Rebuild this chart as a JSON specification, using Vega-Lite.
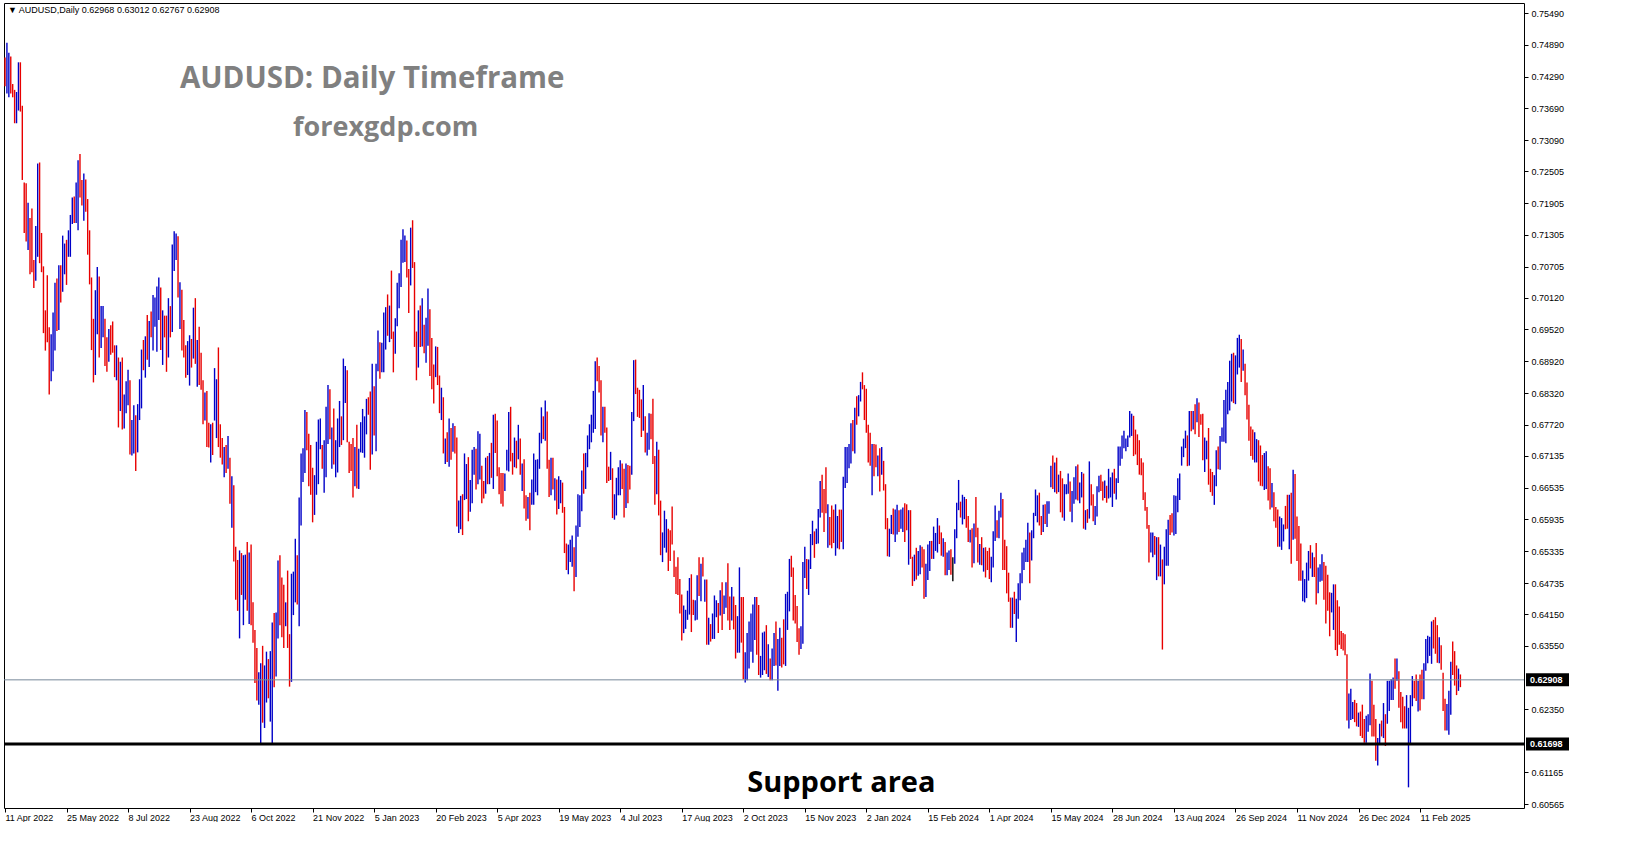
{
"$schema": "https://vega.github.io/schema/vega-lite/v6.json",
"width": 1520,
"height": 805,
"padding": {"left": 2, "top": 3, "right": 0, "bottom": 0},
"autosize": {"type": "pad"},
"background": "#ffffff",
"config": {"view": {"stroke": "#000000", "strokeWidth": 1, "fill": "#ffffff"}, "font": "Liberation Sans", "axis": {"labelOverlap": false, "labelFlush": false}},
"layer": [
{
"data": {"format": {"type": "csv", "parse": {"h": "number", "l": "number"}}, "values": "d,h,l,c\n2022-04-11,0.7465,0.7411,d\n2022-04-12,0.7493,0.7397,u\n2022-04-13,0.7474,0.7390,u\n2022-04-14,0.7467,0.7397,d\n2022-04-15,0.7415,0.7390,d\n2022-04-18,0.7404,0.7341,d\n2022-04-19,0.7400,0.7341,u\n2022-04-20,0.7456,0.7365,u\n2022-04-21,0.7456,0.7363,d\n2022-04-22,0.7374,0.7234,d\n2022-04-25,0.7229,0.7134,d\n2022-04-26,0.7228,0.7118,d\n2022-04-27,0.7191,0.7102,u\n2022-04-28,0.7162,0.7056,d\n2022-04-29,0.7180,0.7060,d\n2022-05-02,0.7083,0.7030,d\n2022-05-03,0.7147,0.7044,u\n2022-05-04,0.7265,0.7089,u\n2022-05-05,0.7267,0.7077,d\n2022-05-06,0.7134,0.7060,d\n2022-05-09,0.7071,0.6945,d\n2022-05-10,0.6988,0.6912,d\n2022-05-11,0.7054,0.6928,d\n2022-05-12,0.6956,0.6829,d\n2022-05-13,0.6943,0.6854,u\n2022-05-16,0.6984,0.6873,u\n2022-05-17,0.7040,0.6912,u\n2022-05-18,0.7048,0.6949,d\n2022-05-19,0.7073,0.6951,u\n2022-05-20,0.7073,0.7003,d\n2022-05-23,0.7129,0.7023,u\n2022-05-24,0.7114,0.7056,u\n2022-05-25,0.7121,0.7036,d\n2022-05-26,0.7139,0.7089,u\n2022-05-27,0.7168,0.7089,u\n2022-05-30,0.7201,0.7151,u\n2022-05-31,0.7203,0.7153,d\n2022-06-01,0.7229,0.7153,u\n2022-06-02,0.7271,0.7139,u\n2022-06-03,0.7283,0.7201,d\n2022-06-06,0.7234,0.7186,d\n2022-06-07,0.7246,0.7157,u\n2022-06-08,0.7235,0.7174,d\n2022-06-09,0.7198,0.7093,d\n2022-06-10,0.7139,0.7037,d\n2022-06-13,0.7050,0.6913,d\n2022-06-14,0.6972,0.6852,d\n2022-06-15,0.7026,0.6866,u\n2022-06-16,0.7070,0.6943,u\n2022-06-17,0.7052,0.6899,d\n2022-06-20,0.6996,0.6917,u\n2022-06-21,0.6996,0.6937,u\n2022-06-22,0.6972,0.6883,d\n2022-06-23,0.6937,0.6872,d\n2022-06-24,0.6953,0.6891,u\n2022-06-27,0.6960,0.6904,d\n2022-06-28,0.6967,0.6908,d\n2022-06-29,0.6922,0.6862,d\n2022-06-30,0.6922,0.6856,u\n2022-07-01,0.6899,0.6767,d\n2022-07-04,0.6891,0.6798,u\n2022-07-05,0.6899,0.6763,d\n2022-07-06,0.6829,0.6765,u\n2022-07-07,0.6854,0.6794,u\n2022-07-08,0.6876,0.6809,u\n2022-07-11,0.6856,0.6716,d\n2022-07-12,0.6781,0.6714,u\n2022-07-13,0.6809,0.6718,u\n2022-07-14,0.6790,0.6685,d\n2022-07-15,0.6811,0.6720,u\n2022-07-18,0.6858,0.6781,u\n2022-07-19,0.6914,0.6803,u\n2022-07-20,0.6932,0.6875,d\n2022-07-21,0.6939,0.6861,u\n2022-07-22,0.6979,0.6895,d\n2022-07-25,0.6968,0.6881,u\n2022-07-26,0.6986,0.6937,d\n2022-07-27,0.7017,0.6912,u\n2022-07-28,0.7012,0.6957,u\n2022-07-29,0.7033,0.6910,u\n2022-08-01,0.7050,0.6970,u\n2022-08-02,0.7031,0.6913,d\n2022-08-03,0.6988,0.6885,u\n2022-08-04,0.6978,0.6937,d\n2022-08-05,0.6978,0.6872,d\n2022-08-08,0.7011,0.6899,u\n2022-08-09,0.6996,0.6937,d\n2022-08-10,0.7112,0.6947,u\n2022-08-11,0.7137,0.7062,u\n2022-08-12,0.7133,0.7083,u\n2022-08-15,0.7128,0.7012,d\n2022-08-16,0.7041,0.6953,u\n2022-08-17,0.7027,0.6912,d\n2022-08-18,0.6970,0.6899,d\n2022-08-19,0.6922,0.6861,d\n2022-08-22,0.6930,0.6866,u\n2022-08-23,0.6941,0.6846,u\n2022-08-24,0.6934,0.6880,d\n2022-08-25,0.6993,0.6897,u\n2022-08-26,0.7011,0.6887,d\n2022-08-29,0.6932,0.6844,u\n2022-08-30,0.6957,0.6847,d\n2022-08-31,0.6908,0.6838,d\n2022-09-01,0.6856,0.6773,d\n2022-09-02,0.6833,0.6780,u\n2022-09-05,0.6836,0.6730,d\n2022-09-06,0.6776,0.6729,d\n2022-09-07,0.6773,0.6701,u\n2022-09-08,0.6776,0.6715,d\n2022-09-09,0.6879,0.6780,u\n2022-09-12,0.6858,0.6747,u\n2022-09-13,0.6918,0.6730,d\n2022-09-14,0.6773,0.6710,d\n2022-09-15,0.6747,0.6697,d\n2022-09-16,0.6730,0.6673,u\n2022-09-19,0.6734,0.6681,d\n2022-09-20,0.6751,0.6689,u\n2022-09-21,0.6710,0.6623,d\n2022-09-22,0.6675,0.6578,u\n2022-09-23,0.6658,0.6514,d\n2022-09-26,0.6542,0.6442,d\n2022-09-27,0.6517,0.6421,d\n2022-09-28,0.6535,0.6369,u\n2022-09-29,0.6530,0.6451,d\n2022-09-30,0.6526,0.6394,u\n2022-10-03,0.6527,0.6442,u\n2022-10-04,0.6551,0.6421,d\n2022-10-05,0.6531,0.6396,u\n2022-10-06,0.6546,0.6394,d\n2022-10-07,0.6437,0.6361,d\n2022-10-10,0.6385,0.6285,d\n2022-10-11,0.6351,0.6252,d\n2022-10-12,0.6305,0.6244,u\n2022-10-13,0.6322,0.6170,u\n2022-10-14,0.6355,0.6210,d\n2022-10-17,0.6318,0.6200,u\n2022-10-18,0.6344,0.6248,u\n2022-10-19,0.6330,0.6256,d\n2022-10-20,0.6345,0.6212,u\n2022-10-21,0.6399,0.6170,u\n2022-10-24,0.6417,0.6277,d\n2022-10-25,0.6418,0.6297,u\n2022-10-26,0.6516,0.6369,u\n2022-10-27,0.6526,0.6394,d\n2022-10-28,0.6484,0.6371,d\n2022-10-31,0.6470,0.6351,d\n2022-11-01,0.6437,0.6392,u\n2022-11-02,0.6497,0.6351,d\n2022-11-03,0.6377,0.6278,d\n2022-11-04,0.6491,0.6287,u\n2022-11-07,0.6495,0.6413,u\n2022-11-08,0.6557,0.6437,u\n2022-11-09,0.6526,0.6433,d\n2022-11-10,0.6635,0.6392,u\n2022-11-11,0.6718,0.6582,u\n2022-11-14,0.6728,0.6664,u\n2022-11-15,0.6800,0.6681,u\n2022-11-16,0.6796,0.6724,d\n2022-11-17,0.6755,0.6656,d\n2022-11-18,0.6734,0.6640,d\n2022-11-21,0.6691,0.6588,d\n2022-11-22,0.6677,0.6602,u\n2022-11-23,0.6740,0.6640,u\n2022-11-24,0.6782,0.6660,u\n2022-11-25,0.6784,0.6726,u\n2022-11-28,0.6734,0.6689,d\n2022-11-29,0.6743,0.6644,u\n2022-11-30,0.6806,0.6673,u\n2022-12-01,0.6847,0.6736,u\n2022-12-02,0.6839,0.6745,d\n2022-12-05,0.6767,0.6689,u\n2022-12-06,0.6803,0.6697,d\n2022-12-07,0.6743,0.6673,u\n2022-12-08,0.6784,0.6682,u\n2022-12-09,0.6817,0.6730,u\n2022-12-12,0.6788,0.6734,d\n2022-12-13,0.6897,0.6743,u\n2022-12-14,0.6883,0.6813,u\n2022-12-15,0.6875,0.6739,d\n2022-12-16,0.6740,0.6681,d\n2022-12-19,0.6736,0.6685,d\n2022-12-20,0.6747,0.6635,d\n2022-12-21,0.6730,0.6656,u\n2022-12-22,0.6772,0.6652,d\n2022-12-23,0.6727,0.6651,u\n2022-12-27,0.6777,0.6720,u\n2022-12-28,0.6802,0.6719,u\n2022-12-29,0.6788,0.6710,u\n2022-12-30,0.6821,0.6754,u\n2023-01-02,0.6824,0.6791,d\n2023-01-03,0.6835,0.6687,d\n2023-01-04,0.6887,0.6716,u\n2023-01-05,0.6845,0.6752,d\n2023-01-06,0.6887,0.6722,u\n2023-01-09,0.6950,0.6873,u\n2023-01-10,0.6928,0.6859,d\n2023-01-11,0.6927,0.6871,u\n2023-01-12,0.6984,0.6871,u\n2023-01-13,0.6994,0.6914,u\n2023-01-16,0.7018,0.6940,d\n2023-01-17,0.6997,0.6928,u\n2023-01-18,0.7063,0.6934,d\n2023-01-19,0.6948,0.6871,d\n2023-01-20,0.6973,0.6906,u\n2023-01-23,0.7040,0.6958,u\n2023-01-24,0.7058,0.6992,u\n2023-01-25,0.7121,0.7032,u\n2023-01-26,0.7141,0.7078,u\n2023-01-27,0.7129,0.7079,u\n2023-01-30,0.7120,0.7050,d\n2023-01-31,0.7066,0.6983,d\n2023-02-01,0.7144,0.7035,u\n2023-02-02,0.7158,0.7068,d\n2023-02-03,0.7079,0.6919,d\n2023-02-06,0.6948,0.6856,d\n2023-02-07,0.6988,0.6880,u\n2023-02-08,0.6997,0.6919,d\n2023-02-09,0.7011,0.6920,u\n2023-02-10,0.6961,0.6907,d\n2023-02-13,0.6974,0.6889,u\n2023-02-14,0.7029,0.6921,u\n2023-02-15,0.6990,0.6864,d\n2023-02-16,0.6936,0.6839,d\n2023-02-17,0.6886,0.6812,d\n2023-02-20,0.6920,0.6862,u\n2023-02-21,0.6919,0.6847,d\n2023-02-22,0.6865,0.6794,d\n2023-02-23,0.6842,0.6781,u\n2023-02-24,0.6824,0.6718,d\n2023-02-27,0.6746,0.6698,u\n2023-02-28,0.6758,0.6702,d\n2023-03-01,0.6784,0.6693,u\n2023-03-02,0.6766,0.6706,d\n2023-03-03,0.6775,0.6721,u\n2023-03-06,0.6770,0.6718,d\n2023-03-07,0.6748,0.6580,d\n2023-03-08,0.6629,0.6568,u\n2023-03-09,0.6638,0.6575,u\n2023-03-10,0.6641,0.6564,d\n2023-03-13,0.6718,0.6630,u\n2023-03-14,0.6698,0.6632,u\n2023-03-15,0.6711,0.6590,d\n2023-03-16,0.6668,0.6608,u\n2023-03-17,0.6725,0.6624,u\n2023-03-20,0.6730,0.6678,u\n2023-03-21,0.6727,0.6650,d\n2023-03-22,0.6760,0.6660,u\n2023-03-23,0.6755,0.6669,u\n2023-03-24,0.6695,0.6624,d\n2023-03-27,0.6666,0.6633,d\n2023-03-28,0.6710,0.6642,u\n2023-03-29,0.6713,0.6660,d\n2023-03-30,0.6719,0.6660,u\n2023-03-31,0.6738,0.6672,d\n2023-04-03,0.6791,0.6651,u\n2023-04-04,0.6793,0.6719,d\n2023-04-05,0.6780,0.6675,d\n2023-04-06,0.6692,0.6641,d\n2023-04-07,0.6681,0.6623,d\n2023-04-10,0.6681,0.6618,d\n2023-04-11,0.6680,0.6647,u\n2023-04-12,0.6725,0.6686,u\n2023-04-13,0.6796,0.6684,u\n2023-04-14,0.6806,0.6703,d\n2023-04-17,0.6719,0.6678,d\n2023-04-18,0.6748,0.6692,u\n2023-04-19,0.6742,0.6690,d\n2023-04-20,0.6772,0.6707,u\n2023-04-21,0.6746,0.6678,d\n2023-04-24,0.6699,0.6647,u\n2023-04-25,0.6707,0.6614,d\n2023-04-26,0.6639,0.6591,d\n2023-04-27,0.6636,0.6595,u\n2023-04-28,0.6644,0.6573,d\n2023-05-01,0.6669,0.6621,u\n2023-05-02,0.6718,0.6621,u\n2023-05-03,0.6706,0.6645,u\n2023-05-04,0.6707,0.6639,u\n2023-05-05,0.6757,0.6689,u\n2023-05-08,0.6805,0.6737,u\n2023-05-09,0.6788,0.6745,d\n2023-05-10,0.6818,0.6742,u\n2023-05-11,0.6797,0.6689,d\n2023-05-12,0.6706,0.6636,d\n2023-05-15,0.6710,0.6639,u\n2023-05-16,0.6710,0.6650,d\n2023-05-17,0.6671,0.6629,u\n2023-05-18,0.6669,0.6603,d\n2023-05-19,0.6675,0.6613,u\n2023-05-22,0.6668,0.6624,u\n2023-05-23,0.6663,0.6606,d\n2023-05-24,0.6617,0.6530,d\n2023-05-25,0.6548,0.6498,d\n2023-05-26,0.6546,0.6490,u\n2023-05-29,0.6555,0.6513,u\n2023-05-30,0.6563,0.6504,u\n2023-05-31,0.6541,0.6458,d\n2023-06-01,0.6582,0.6485,u\n2023-06-02,0.6641,0.6561,u\n2023-06-05,0.6639,0.6579,u\n2023-06-06,0.6686,0.6609,u\n2023-06-07,0.6718,0.6642,d\n2023-06-08,0.6719,0.6651,u\n2023-06-09,0.6752,0.6692,u\n2023-06-12,0.6773,0.6726,u\n2023-06-13,0.6791,0.6739,u\n2023-06-14,0.6836,0.6757,u\n2023-06-15,0.6892,0.6764,u\n2023-06-16,0.6899,0.6854,d\n2023-06-19,0.6883,0.6833,d\n2023-06-20,0.6856,0.6752,d\n2023-06-21,0.6806,0.6739,u\n2023-06-22,0.6806,0.6757,d\n2023-06-23,0.6767,0.6662,d\n2023-06-26,0.6693,0.6666,d\n2023-06-27,0.6721,0.6668,u\n2023-06-28,0.6690,0.6596,d\n2023-06-29,0.6641,0.6593,u\n2023-06-30,0.6672,0.6601,u\n2023-07-03,0.6692,0.6639,u\n2023-07-04,0.6705,0.6639,u\n2023-07-05,0.6699,0.6651,d\n2023-07-06,0.6689,0.6597,d\n2023-07-07,0.6699,0.6615,u\n2023-07-10,0.6696,0.6624,d\n2023-07-11,0.6695,0.6650,d\n2023-07-12,0.6796,0.6678,u\n2023-07-13,0.6894,0.6779,u\n2023-07-14,0.6895,0.6830,d\n2023-07-17,0.6842,0.6787,d\n2023-07-18,0.6838,0.6785,d\n2023-07-19,0.6820,0.6749,d\n2023-07-20,0.6847,0.6761,u\n2023-07-21,0.6788,0.6720,d\n2023-07-24,0.6757,0.6714,u\n2023-07-25,0.6794,0.6725,u\n2023-07-26,0.6793,0.6745,d\n2023-07-27,0.6821,0.6698,d\n2023-07-28,0.6713,0.6621,d\n2023-07-31,0.6740,0.6641,u\n2023-08-01,0.6725,0.6601,d\n2023-08-02,0.6629,0.6526,d\n2023-08-03,0.6569,0.6513,u\n2023-08-04,0.6610,0.6540,u\n2023-08-07,0.6594,0.6531,u\n2023-08-08,0.6576,0.6496,d\n2023-08-09,0.6573,0.6515,d\n2023-08-10,0.6618,0.6546,d\n2023-08-11,0.6535,0.6485,d\n2023-08-14,0.6504,0.6453,d\n2023-08-15,0.6522,0.6451,d\n2023-08-16,0.6481,0.6416,d\n2023-08-17,0.6452,0.6365,d\n2023-08-18,0.6431,0.6379,u\n2023-08-21,0.6423,0.6387,u\n2023-08-22,0.6459,0.6404,u\n2023-08-23,0.6483,0.6414,u\n2023-08-24,0.6490,0.6381,d\n2023-08-25,0.6442,0.6413,d\n2023-08-28,0.6441,0.6403,u\n2023-08-29,0.6488,0.6404,u\n2023-08-30,0.6522,0.6449,d\n2023-08-31,0.6510,0.6439,u\n2023-09-01,0.6522,0.6486,d\n2023-09-04,0.6480,0.6438,u\n2023-09-05,0.6480,0.6357,d\n2023-09-06,0.6408,0.6357,u\n2023-09-07,0.6396,0.6363,d\n2023-09-08,0.6416,0.6368,u\n2023-09-11,0.6450,0.6368,u\n2023-09-12,0.6441,0.6409,u\n2023-09-13,0.6436,0.6379,d\n2023-09-14,0.6460,0.6412,u\n2023-09-15,0.6475,0.6385,d\n2023-09-18,0.6450,0.6415,u\n2023-09-19,0.6475,0.6427,u\n2023-09-20,0.6511,0.6403,d\n2023-09-21,0.6448,0.6385,d\n2023-09-22,0.6466,0.6403,u\n2023-09-25,0.6448,0.6386,d\n2023-09-26,0.6432,0.6331,d\n2023-09-27,0.6411,0.6342,u\n2023-09-28,0.6503,0.6342,u\n2023-09-29,0.6447,0.6361,d\n2023-10-02,0.6447,0.6292,d\n2023-10-03,0.6343,0.6286,u\n2023-10-04,0.6379,0.6290,u\n2023-10-05,0.6401,0.6312,u\n2023-10-06,0.6416,0.6344,u\n2023-10-09,0.6433,0.6323,u\n2023-10-10,0.6447,0.6366,u\n2023-10-11,0.6447,0.6338,d\n2023-10-12,0.6432,0.6300,d\n2023-10-13,0.6336,0.6295,u\n2023-10-16,0.6380,0.6300,u\n2023-10-17,0.6382,0.6309,u\n2023-10-18,0.6394,0.6302,d\n2023-10-19,0.6358,0.6296,u\n2023-10-20,0.6331,0.6290,d\n2023-10-23,0.6350,0.6290,u\n2023-10-24,0.6379,0.6317,u\n2023-10-25,0.6401,0.6318,d\n2023-10-26,0.6368,0.6270,u\n2023-10-27,0.6389,0.6317,u\n2023-10-30,0.6370,0.6314,d\n2023-10-31,0.6405,0.6320,d\n2023-11-01,0.6453,0.6317,u\n2023-11-02,0.6457,0.6385,u\n2023-11-03,0.6519,0.6420,u\n2023-11-06,0.6525,0.6485,d\n2023-11-07,0.6503,0.6403,d\n2023-11-08,0.6451,0.6397,d\n2023-11-09,0.6430,0.6362,d\n2023-11-10,0.6388,0.6338,d\n2023-11-13,0.6392,0.6349,u\n2023-11-14,0.6513,0.6359,u\n2023-11-15,0.6542,0.6483,u\n2023-11-16,0.6519,0.6462,d\n2023-11-17,0.6518,0.6451,u\n2023-11-20,0.6566,0.6500,u\n2023-11-21,0.6591,0.6545,u\n2023-11-22,0.6571,0.6521,d\n2023-11-23,0.6576,0.6547,u\n2023-11-24,0.6613,0.6548,u\n2023-11-27,0.6666,0.6597,u\n2023-11-28,0.6678,0.6606,d\n2023-11-29,0.6651,0.6570,d\n2023-11-30,0.6692,0.6605,d\n2023-12-01,0.6622,0.6540,u\n2023-12-04,0.6598,0.6545,d\n2023-12-05,0.6620,0.6539,d\n2023-12-06,0.6612,0.6549,d\n2023-12-07,0.6622,0.6525,u\n2023-12-08,0.6600,0.6539,u\n2023-12-11,0.6612,0.6537,d\n2023-12-12,0.6612,0.6551,d\n2023-12-13,0.6674,0.6537,u\n2023-12-14,0.6730,0.6653,u\n2023-12-15,0.6730,0.6662,u\n2023-12-18,0.6736,0.6690,u\n2023-12-19,0.6775,0.6699,u\n2023-12-20,0.6781,0.6722,d\n2023-12-21,0.6804,0.6718,u\n2023-12-22,0.6826,0.6772,d\n2023-12-26,0.6828,0.6788,u\n2023-12-27,0.6853,0.6816,u\n2023-12-28,0.6871,0.6839,d\n2023-12-29,0.6847,0.6781,d\n2024-01-02,0.6840,0.6757,d\n2024-01-03,0.6772,0.6701,d\n2024-01-04,0.6757,0.6695,d\n2024-01-05,0.6736,0.6639,u\n2024-01-08,0.6736,0.6675,d\n2024-01-09,0.6735,0.6692,d\n2024-01-10,0.6714,0.6675,u\n2024-01-11,0.6728,0.6646,d\n2024-01-12,0.6730,0.6678,u\n2024-01-15,0.6704,0.6648,d\n2024-01-16,0.6660,0.6575,d\n2024-01-17,0.6596,0.6524,d\n2024-01-18,0.6576,0.6523,u\n2024-01-19,0.6602,0.6566,u\n2024-01-22,0.6614,0.6565,d\n2024-01-23,0.6612,0.6551,u\n2024-01-24,0.6621,0.6565,u\n2024-01-25,0.6611,0.6570,d\n2024-01-26,0.6612,0.6576,u\n2024-01-29,0.6616,0.6570,u\n2024-01-30,0.6624,0.6551,d\n2024-01-31,0.6622,0.6573,d\n2024-02-01,0.6611,0.6508,u\n2024-02-02,0.6611,0.6519,d\n2024-02-05,0.6523,0.6468,d\n2024-02-06,0.6527,0.6477,u\n2024-02-07,0.6540,0.6480,d\n2024-02-08,0.6534,0.6487,u\n2024-02-09,0.6545,0.6490,u\n2024-02-12,0.6542,0.6503,d\n2024-02-13,0.6537,0.6444,d\n2024-02-14,0.6510,0.6447,u\n2024-02-15,0.6546,0.6479,u\n2024-02-16,0.6553,0.6496,u\n2024-02-19,0.6553,0.6519,d\n2024-02-20,0.6580,0.6519,u\n2024-02-21,0.6568,0.6534,u\n2024-02-22,0.6596,0.6531,u\n2024-02-23,0.6582,0.6547,d\n2024-02-26,0.6569,0.6525,d\n2024-02-27,0.6558,0.6523,u\n2024-02-28,0.6551,0.6488,d\n2024-02-29,0.6531,0.6488,u\n2024-03-01,0.6535,0.6498,u\n2024-03-04,0.6537,0.6489,d\n2024-03-05,0.6522,0.6477,n\n2024-03-06,0.6575,0.6510,u\n2024-03-07,0.6625,0.6558,u\n2024-03-08,0.6668,0.6611,u\n2024-03-11,0.6627,0.6597,d\n2024-03-12,0.6640,0.6584,u\n2024-03-13,0.6636,0.6594,u\n2024-03-14,0.6632,0.6578,d\n2024-03-15,0.6600,0.6551,d\n2024-03-18,0.6574,0.6550,u\n2024-03-19,0.6577,0.6503,d\n2024-03-20,0.6586,0.6511,u\n2024-03-21,0.6636,0.6560,d\n2024-03-22,0.6578,0.6512,d\n2024-03-25,0.6547,0.6508,u\n2024-03-26,0.6560,0.6507,d\n2024-03-27,0.6540,0.6495,u\n2024-03-28,0.6541,0.6484,d\n2024-03-29,0.6534,0.6498,d\n2024-04-01,0.6540,0.6481,d\n2024-04-02,0.6523,0.6475,u\n2024-04-03,0.6571,0.6503,u\n2024-04-04,0.6620,0.6553,u\n2024-04-05,0.6592,0.6559,d\n2024-04-08,0.6610,0.6558,u\n2024-04-09,0.6644,0.6597,u\n2024-04-10,0.6632,0.6498,d\n2024-04-11,0.6555,0.6498,d\n2024-04-12,0.6543,0.6454,d\n2024-04-15,0.6493,0.6438,d\n2024-04-16,0.6446,0.6389,d\n2024-04-17,0.6446,0.6389,u\n2024-04-18,0.6457,0.6415,d\n2024-04-19,0.6444,0.6362,u\n2024-04-22,0.6473,0.6406,u\n2024-04-23,0.6492,0.6441,u\n2024-04-24,0.6531,0.6473,u\n2024-04-25,0.6540,0.6498,u\n2024-04-26,0.6555,0.6513,u\n2024-04-29,0.6587,0.6513,u\n2024-04-30,0.6569,0.6473,d\n2024-05-01,0.6573,0.6516,u\n2024-05-02,0.6606,0.6558,u\n2024-05-03,0.6650,0.6600,u\n2024-05-06,0.6639,0.6588,u\n2024-05-07,0.6644,0.6582,d\n2024-05-08,0.6600,0.6564,d\n2024-05-09,0.6621,0.6570,u\n2024-05-10,0.6622,0.6585,d\n2024-05-13,0.6628,0.6579,u\n2024-05-14,0.6628,0.6604,u\n2024-05-15,0.6695,0.6654,u\n2024-05-16,0.6714,0.6651,d\n2024-05-17,0.6701,0.6645,u\n2024-05-20,0.6710,0.6642,d\n2024-05-21,0.6678,0.6645,u\n2024-05-22,0.6685,0.6607,d\n2024-05-23,0.6671,0.6597,d\n2024-05-24,0.6660,0.6591,u\n2024-05-27,0.6660,0.6641,u\n2024-05-28,0.6680,0.6642,u\n2024-05-29,0.6665,0.6608,d\n2024-05-30,0.6647,0.6588,u\n2024-05-31,0.6673,0.6623,u\n2024-06-03,0.6694,0.6631,u\n2024-06-04,0.6697,0.6629,d\n2024-06-05,0.6663,0.6624,u\n2024-06-06,0.6683,0.6635,u\n2024-06-07,0.6680,0.6576,d\n2024-06-10,0.6611,0.6574,u\n2024-06-11,0.6613,0.6587,d\n2024-06-12,0.6703,0.6595,u\n2024-06-13,0.6660,0.6620,d\n2024-06-14,0.6641,0.6590,d\n2024-06-17,0.6619,0.6583,u\n2024-06-18,0.6656,0.6599,u\n2024-06-19,0.6676,0.6645,u\n2024-06-20,0.6678,0.6647,d\n2024-06-21,0.6665,0.6629,d\n2024-06-24,0.6667,0.6634,u\n2024-06-25,0.6657,0.6625,d\n2024-06-26,0.6689,0.6633,u\n2024-06-27,0.6673,0.6635,u\n2024-06-28,0.6682,0.6617,u\n2024-07-01,0.6689,0.6642,d\n2024-07-02,0.6671,0.6631,u\n2024-07-03,0.6731,0.6662,u\n2024-07-04,0.6731,0.6695,u\n2024-07-05,0.6752,0.6708,u\n2024-07-08,0.6761,0.6728,u\n2024-07-09,0.6746,0.6722,u\n2024-07-10,0.6752,0.6730,u\n2024-07-11,0.6798,0.6748,u\n2024-07-12,0.6793,0.6751,u\n2024-07-15,0.6789,0.6713,d\n2024-07-16,0.6763,0.6716,d\n2024-07-17,0.6754,0.6696,d\n2024-07-18,0.6743,0.6678,d\n2024-07-19,0.6709,0.6677,d\n2024-07-22,0.6701,0.6630,d\n2024-07-23,0.6645,0.6610,d\n2024-07-24,0.6617,0.6576,d\n2024-07-25,0.6583,0.6512,d\n2024-07-26,0.6569,0.6531,u\n2024-07-29,0.6569,0.6522,u\n2024-07-30,0.6562,0.6527,d\n2024-07-31,0.6560,0.6479,u\n2024-08-01,0.6560,0.6486,d\n2024-08-02,0.6546,0.6486,u\n2024-08-05,0.6518,0.6348,d\n2024-08-06,0.6542,0.6471,u\n2024-08-07,0.6575,0.6506,u\n2024-08-08,0.6593,0.6506,u\n2024-08-09,0.6602,0.6564,d\n2024-08-12,0.6605,0.6569,d\n2024-08-13,0.6639,0.6563,u\n2024-08-14,0.6638,0.6566,u\n2024-08-15,0.6671,0.6607,u\n2024-08-16,0.6680,0.6630,u\n2024-08-19,0.6731,0.6695,u\n2024-08-20,0.6746,0.6711,u\n2024-08-21,0.6761,0.6728,u\n2024-08-22,0.6752,0.6694,d\n2024-08-23,0.6798,0.6695,u\n2024-08-26,0.6798,0.6760,d\n2024-08-27,0.6798,0.6763,u\n2024-08-28,0.6811,0.6754,d\n2024-08-29,0.6822,0.6777,u\n2024-08-30,0.6814,0.6749,d\n2024-09-02,0.6792,0.6772,d\n2024-09-03,0.6793,0.6705,d\n2024-09-04,0.6748,0.6683,u\n2024-09-05,0.6742,0.6707,u\n2024-09-06,0.6766,0.6659,d\n2024-09-09,0.6689,0.6645,d\n2024-09-10,0.6683,0.6638,d\n2024-09-11,0.6677,0.6621,u\n2024-09-12,0.6724,0.6656,u\n2024-09-13,0.6731,0.6688,d\n2024-09-16,0.6751,0.6687,u\n2024-09-17,0.6767,0.6740,u\n2024-09-18,0.6819,0.6740,u\n2024-09-19,0.6838,0.6737,u\n2024-09-20,0.6853,0.6792,u\n2024-09-23,0.6893,0.6799,u\n2024-09-24,0.6906,0.6816,u\n2024-09-25,0.6908,0.6813,d\n2024-09-26,0.6903,0.6811,u\n2024-09-27,0.6936,0.6867,u\n2024-09-30,0.6942,0.6880,u\n2024-10-01,0.6934,0.6853,d\n2024-10-02,0.6914,0.6874,u\n2024-10-03,0.6887,0.6828,d\n2024-10-04,0.6852,0.6782,d\n2024-10-07,0.6810,0.6742,d\n2024-10-08,0.6769,0.6713,d\n2024-10-09,0.6763,0.6706,d\n2024-10-10,0.6758,0.6701,u\n2024-10-11,0.6745,0.6701,u\n2024-10-14,0.6743,0.6665,d\n2024-10-15,0.6733,0.6657,d\n2024-10-16,0.6715,0.6656,d\n2024-10-17,0.6719,0.6649,u\n2024-10-18,0.6722,0.6651,u\n2024-10-21,0.6694,0.6629,d\n2024-10-22,0.6690,0.6612,d\n2024-10-23,0.6662,0.6616,u\n2024-10-24,0.6645,0.6590,d\n2024-10-25,0.6617,0.6578,d\n2024-10-28,0.6612,0.6542,d\n2024-10-29,0.6599,0.6542,u\n2024-10-30,0.6596,0.6536,u\n2024-10-31,0.6584,0.6552,u\n2024-11-01,0.6619,0.6575,d\n2024-11-04,0.6640,0.6576,d\n2024-11-05,0.6640,0.6537,u\n2024-11-06,0.6644,0.6510,d\n2024-11-07,0.6687,0.6555,u\n2024-11-08,0.6679,0.6557,d\n2024-11-11,0.6599,0.6515,d\n2024-11-12,0.6581,0.6478,d\n2024-11-13,0.6548,0.6478,d\n2024-11-14,0.6497,0.6439,u\n2024-11-15,0.6481,0.6437,u\n2024-11-18,0.6512,0.6445,u\n2024-11-19,0.6534,0.6478,u\n2024-11-20,0.6545,0.6501,d\n2024-11-21,0.6531,0.6485,u\n2024-11-22,0.6522,0.6485,d\n2024-11-25,0.6549,0.6433,d\n2024-11-26,0.6503,0.6454,u\n2024-11-27,0.6509,0.6476,u\n2024-11-28,0.6528,0.6478,u\n2024-11-29,0.6513,0.6442,d\n2024-12-02,0.6506,0.6397,d\n2024-12-03,0.6489,0.6421,d\n2024-12-04,0.6456,0.6373,d\n2024-12-05,0.6455,0.6418,u\n2024-12-06,0.6471,0.6385,u\n2024-12-09,0.6471,0.6347,d\n2024-12-10,0.6441,0.6336,d\n2024-12-11,0.6429,0.6357,d\n2024-12-12,0.6383,0.6349,d\n2024-12-13,0.6379,0.6346,d\n2024-12-16,0.6377,0.6337,d\n2024-12-17,0.6339,0.6214,d\n2024-12-18,0.6265,0.6199,u\n2024-12-19,0.6274,0.6215,u\n2024-12-20,0.6249,0.6217,u\n2024-12-23,0.6253,0.6211,d\n2024-12-24,0.6247,0.6203,d\n2024-12-26,0.6229,0.6202,u\n2024-12-27,0.6231,0.6185,d\n2024-12-30,0.6244,0.6181,d\n2024-12-31,0.6217,0.6172,d\n2025-01-02,0.6223,0.6172,u\n2025-01-03,0.6226,0.6193,u\n2025-01-06,0.6303,0.6205,u\n2025-01-07,0.6289,0.6184,d\n2025-01-08,0.6244,0.6184,d\n2025-01-09,0.6217,0.6138,d\n2025-01-10,0.6181,0.6129,u\n2025-01-13,0.6208,0.6169,u\n2025-01-14,0.6214,0.6184,d\n2025-01-15,0.6247,0.6181,u\n2025-01-16,0.6226,0.6166,d\n2025-01-17,0.6289,0.6208,u\n2025-01-20,0.6289,0.6232,u\n2025-01-21,0.6292,0.6253,u\n2025-01-22,0.6295,0.6253,u\n2025-01-23,0.6331,0.6274,d\n2025-01-24,0.6331,0.6289,u\n2025-01-27,0.6307,0.6238,d\n2025-01-28,0.6268,0.6211,d\n2025-01-29,0.6259,0.6199,d\n2025-01-30,0.6241,0.6199,d\n2025-01-31,0.6262,0.6199,u\n2025-02-03,0.6238,0.6088,u\n2025-02-04,0.6262,0.6171,u\n2025-02-05,0.6298,0.6241,u\n2025-02-06,0.6289,0.6256,d\n2025-02-07,0.6301,0.6251,d\n2025-02-10,0.6289,0.6231,u\n2025-02-11,0.6301,0.6233,d\n2025-02-12,0.6310,0.6254,d\n2025-02-13,0.6322,0.6254,u\n2025-02-14,0.6368,0.6308,u\n2025-02-17,0.6374,0.6322,u\n2025-02-18,0.6372,0.6336,u\n2025-02-19,0.6401,0.6321,u\n2025-02-20,0.6404,0.6350,d\n2025-02-21,0.6409,0.6340,d\n2025-02-24,0.6394,0.6323,d\n2025-02-25,0.6371,0.6322,u\n2025-02-26,0.6356,0.6310,d\n2025-02-27,0.6304,0.6232,d\n2025-02-28,0.6255,0.6195,d\n2025-03-03,0.6245,0.6195,u\n2025-03-04,0.6270,0.6187,u\n2025-03-05,0.6325,0.6225,u\n2025-03-06,0.6363,0.6300,d\n2025-03-07,0.6345,0.6280,d\n2025-03-10,0.6318,0.6262,d\n2025-03-11,0.6312,0.6270,u\n2025-03-12,0.6301,0.6277,d"},
"mark": {"type": "rule", "strokeWidth": 1.4, "strokeCap": "butt"},
"encoding": {
"x": {"field": "d", "type": "ordinal", "scale": {"type": "point", "range": [1, 1456.4], "padding": 0},
"axis": {"orient": "bottom", "title": null, "domain": false, "grid": false,
"values": ["2022-04-11","2022-05-25","2022-07-08","2022-08-23","2022-10-06","2022-11-21","2023-01-05","2023-02-20","2023-04-05","2023-05-19","2023-07-04","2023-08-17","2023-10-02","2023-11-15","2024-01-02","2024-02-15","2024-04-01","2024-05-15","2024-06-28","2024-08-13","2024-09-26","2024-11-11","2024-12-26","2025-02-11"],
"labelExpr": "utcFormat(toDate(datum.value), '%-d %b %Y')",
"labelAlign": "left", "labelBaseline": "top", "labelAngle": 0, "labelOverlap": false, "labelOffset": 0,
"labelPadding": 1, "tickSize": 4, "tickColor": "#000000", "labelColor": "#000000",
"labelFont": "Liberation Sans", "labelFontSize": 9}},
"y": {"field": "h", "type": "quantitative", "scale": {"domain": [0.6049, 0.75679], "nice": false, "zero": false},
"axis": {"orient": "right", "title": null, "domain": false, "grid": false, "labelOverlap": false, "labelFlush": false, "tickCount": 100,
"values": [0.7549,0.7489,0.7429,0.7369,0.7309,0.72505,0.71905,0.71305,0.70705,0.7012,0.6952,0.6892,0.6832,0.6772,0.67135,0.66535,0.65935,0.65335,0.64735,0.6415,0.6355,0.6235,0.61165,0.60565],
"format": ".5f", "tickSize": 4, "labelPadding": 3, "tickColor": "#000000", "labelColor": "#000000",
"labelFont": "Liberation Sans", "labelFontSize": 9, "labelBaseline": "middle"}},
"y2": {"field": "l"},
"color": {"field": "c", "type": "nominal", "scale": {"domain": ["u","d","n"], "range": ["#0000c8","#e80000","#000000"]}, "legend": null}
}
},
{
"data": {"values": [{"p": 0.62908}]},
"mark": {"type": "rule", "color": "#778899", "strokeWidth": 1},
"encoding": {"y": {"field": "p", "type": "quantitative", "axis": {"title": null, "tickCount": 100}}}
},
{
"data": {"values": [{"p": 0.61698}]},
"mark": {"type": "rule", "color": "#000000", "strokeWidth": 3},
"encoding": {"y": {"field": "p", "type": "quantitative", "axis": {"title": null, "tickCount": 100}}}
},
{
"data": {"values": [{"p": 0.62908, "t": "0.62908"}, {"p": 0.61698, "t": "0.61698"}]},
"mark": {"type": "rule", "color": "#000000", "strokeWidth": 13, "strokeCap": "butt"},
"encoding": {"y": {"field": "p", "type": "quantitative", "axis": {"title": null, "tickCount": 100}}, "x": {"value": {"expr": "width + 2"}}, "x2": {"value": {"expr": "width + 45"}}}
},
{
"data": {"values": [{"p": 0.62908, "t": "0.62908"}, {"p": 0.61698, "t": "0.61698"}]},
"mark": {"type": "text", "color": "#ffffff", "align": "left", "baseline": "middle", "font": "Liberation Sans", "fontSize": 9, "fontWeight": "bold"},
"encoding": {"y": {"field": "p", "type": "quantitative", "axis": {"title": null, "tickCount": 100}}, "x": {"value": {"expr": "width + 6"}}, "text": {"field": "t", "type": "nominal"}}
},
{
"data": {"values": [{}]},
"mark": {"type": "text", "text": "AUDUSD: Daily Timeframe", "font": "Open Sans", "fontSize": 29.5, "fontWeight": "bold", "color": "#808080", "align": "center", "baseline": "middle"},
"encoding": {"x": {"datum": "2023-01-04", "type": "ordinal", "axis": {"title": null}}, "y": {"datum": 0.74245, "type": "quantitative", "axis": {"title": null, "tickCount": 100}}}
},
{
"data": {"values": [{}]},
"mark": {"type": "text", "text": "forexgdp.com", "font": "Open Sans", "fontSize": 27, "fontWeight": "bold", "color": "#808080", "align": "center", "baseline": "middle"},
"encoding": {"x": {"datum": "2023-01-13", "type": "ordinal", "axis": {"title": null}}, "y": {"datum": 0.73325, "type": "quantitative", "axis": {"title": null, "tickCount": 100}}}
},
{
"data": {"values": [{}]},
"mark": {"type": "text", "text": "Support area", "font": "Open Sans", "fontSize": 29, "fontWeight": "bold", "color": "#000000", "align": "center", "baseline": "middle"},
"encoding": {"x": {"datum": "2023-12-12", "type": "ordinal", "axis": {"title": null}}, "y": {"datum": 0.6096, "type": "quantitative", "axis": {"title": null, "tickCount": 100}}}
},
{
"data": {"values": [{}]},
"mark": {"type": "text", "text": "▼ AUDUSD,Daily  0.62968 0.63012 0.62767 0.62908", "font": "Liberation Sans", "fontSize": 9, "color": "#000000", "align": "left", "baseline": "middle", "dx": 1},
"encoding": {"x": {"datum": "2022-04-12", "type": "ordinal", "axis": {"title": null}}, "y": {"datum": 0.75547, "type": "quantitative", "axis": {"title": null, "tickCount": 100}}}
}
]
}
